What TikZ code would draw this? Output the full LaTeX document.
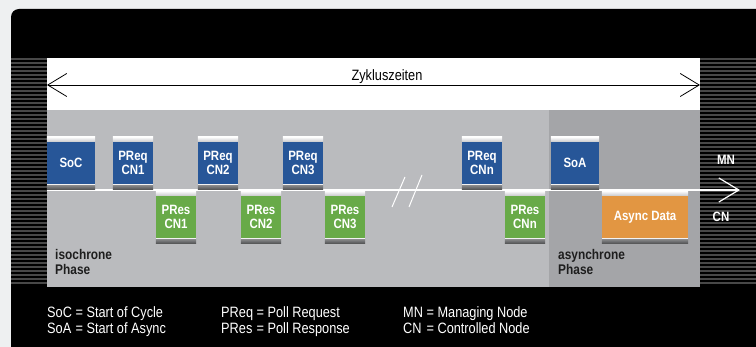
\documentclass[tikz,border=0pt]{standalone}
\usepackage{fontspec}
\setmainfont{Liberation Sans}[FakeStretch=0.85]
\usetikzlibrary{arrows.meta}
\definecolor{pageback}{RGB}{238,240,241}
\definecolor{stripe}{RGB}{72,72,72}
\definecolor{isogray}{RGB}{186,187,190}
\definecolor{asyncgray}{RGB}{164,165,168}
\definecolor{preqblue}{RGB}{39,86,152}
\definecolor{presgreen}{RGB}{104,170,72}
\definecolor{asyncorange}{RGB}{226,150,66}
\definecolor{capgray}{RGB}{200,201,204}
\definecolor{capdark}{RGB}{85,86,88}
\definecolor{phasetext}{RGB}{30,30,30}
\tikzset{
    packet/.style={inner sep=0pt, minimum height=42pt, text=white, align=center,
        font=\bfseries\fontsize{13.5}{14}\selectfont},
    preq/.style={packet, fill=preqblue, minimum width=40pt},
    pres/.style={packet, fill=presgreen, minimum width=40pt},
    startbox/.style={packet, fill=preqblue, minimum width=48pt},
    asyncbox/.style={packet, fill=asyncorange, minimum width=86pt},
    phase/.style={anchor=base west, inner sep=0pt, text=phasetext,
        font=\bfseries\fontsize{14}{15}\selectfont},
    legend/.style={anchor=base west, inner sep=0pt, text=white,
        font=\fontsize{15}{15}\selectfont},
    cycle/.style={draw=black, line width=0.8pt,
        {Straight Barb[length=19pt,width=23pt]}-{Straight Barb[length=19pt,width=23pt]}},
    axis/.style={draw=white, line width=1.2pt, -{Straight Barb[length=20pt,width=24pt]}},
}
\begin{document}
\begin{tikzpicture}[x=1pt, y=-1pt]
	\useasboundingbox (0,0) rectangle (756,347);
	\fill[pageback] (0,0) rectangle (756,347);
	\fill[black, rounded corners=8pt] (11,360) -- (11,9) -- (770,9) -- (770,360) -- cycle;
	% striped side bands
	\foreach \y in {58,62,...,284} {
		\fill[stripe] (11,\y) rectangle (47,\y+2);
		\fill[stripe] (700,\y) rectangle (756,\y+2);
	}
	\fill[white] (47,58) rectangle (700,110);
	\fill[isogray] (47,110) rectangle (549,287);
	\fill[asyncgray] (549,110) rectangle (700,287);
	% cycle time
	\coordinate (zl) at (47,85);
	\coordinate (zr) at (700,85);
	\draw[cycle] (zl) -- (zr);
	\node[font=\fontsize{15}{16}\selectfont] (zyk) at (387,77) {Zykluszeiten};
	% time axis
	\coordinate (ax0) at (47,190);
	\coordinate (ax1) at (740,190);
	\draw[axis] (ax0) -- (ax1);
	\draw[white, line width=1pt] (392,207) -- (405,177);
	\draw[white, line width=1pt] (409,207) -- (422,175);
	% frames
	\node[startbox] (soc) at (71,163) {SoC};
	\node[preq] (preq1) at (133,163) {PReq\\CN1};
	\node[preq] (preq2) at (218,163) {PReq\\CN2};
	\node[preq] (preq3) at (303,163) {PReq\\CN3};
	\node[preq] (preqn) at (482,163) {PReq\\CNn};
	\node[startbox] (soa) at (575,163) {SoA};
	\node[pres] (pres1) at (176,217) {PRes\\CN1};
	\node[pres] (pres2) at (261,217) {PRes\\CN2};
	\node[pres] (pres3) at (345,217) {PRes\\CN3};
	\node[pres] (presn) at (525,217) {PRes\\CNn};
	\node[asyncbox] (async) at (645,217) {Async Data};
	\foreach \n in {soc,preq1,preq2,preq3,preqn,soa,pres1,pres2,pres3,presn,async} {
		\shade[top color=white, bottom color=capgray] ([yshift=5pt]\n.north west) rectangle (\n.north east);
		\fill[white!90!gray] (\n.south west) rectangle ([yshift=-1pt]\n.south east);
		\shade[top color=capdark!70, bottom color=capdark] ([yshift=-1pt]\n.south west) rectangle ([yshift=-5pt]\n.south east);
	}
	\node[text=white, font=\bfseries\fontsize{13.5}{14}\selectfont] (mn) at (726,160) {MN};
	\node[text=white, font=\bfseries\fontsize{13.5}{14}\selectfont] (cn) at (721,217) {CN};
	% phases
	\node[phase] (iso) at (55,260) {\begin{tabular}[t]{@{}l@{}}isochrone\\Phase\end{tabular}};
	\node[phase] (asy) at (558,260) {\begin{tabular}[t]{@{}l@{}}asynchrone\\Phase\end{tabular}};
	% legend
	\node[legend] (leg1) at (47,318) {\begin{tabular}[t]{@{}l@{ }l@{}}SoC & = Start of Cycle\\SoA & = Start of Async\end{tabular}};
	\node[legend] (leg2) at (221,318) {\begin{tabular}[t]{@{}l@{ }l@{}}PReq & = Poll Request\\PRes & = Poll Response\end{tabular}};
	\node[legend] (leg3) at (403,318) {\begin{tabular}[t]{@{}l@{ }l@{}}MN & = Managing Node\\CN & = Controlled Node\end{tabular}};
\end{tikzpicture}
\end{document}
